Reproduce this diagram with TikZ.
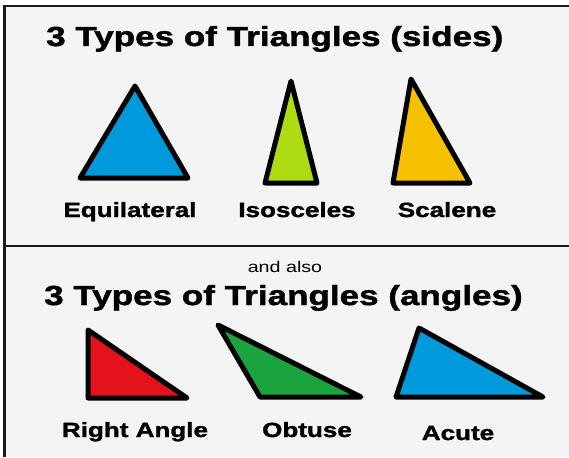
\documentclass[tikz,border=0pt]{standalone}
\usepackage{fontspec}
\usepackage{xcolor}
\newfontfamily\widesans{Liberation Sans}[FakeStretch=1.27, BoldFont={Liberation Sans Bold}, BoldFeatures={FakeBold=1.6}]
\usetikzlibrary{positioning}
\definecolor{PanelGrey}{HTML}{F4F4F4}
\definecolor{PanelLine}{HTML}{1A1A1A}
\definecolor{TriBlue}{HTML}{0099DB}
\definecolor{TriLime}{HTML}{ADDB14}
\definecolor{TriAmber}{HTML}{F4C000}
\definecolor{TriRed}{HTML}{E3121B}
\definecolor{TriGreen}{HTML}{1BA340}
\tikzset{
    % Outlined triangles
    tri shape/.style={
        draw=black,
        line width=5pt,
        line join=round
    },
    panel line/.style={
        draw=PanelLine,
        line width=2.5pt
    },
    heading/.style={
        anchor=base west,
        inner sep=0pt,
        font=\widesans\bfseries\fontsize{27.6}{30}\selectfont
    },
    type label/.style={
        anchor=base,
        inner sep=0pt,
        font=\widesans\bfseries\fontsize{20.5}{24}\selectfont
    },
    small note/.style={
        anchor=base,
        inner sep=0pt,
        font=\widesans\fontsize{15.5}{18}\selectfont
    }
}

\begin{document}
\begin{tikzpicture}[x=1pt, y=-1pt]
        \useasboundingbox (0,0) rectangle (569,457);

        % Panel
        \fill[PanelGrey] (4.5,6) rectangle (569,457);
        \draw[panel line] (4.5,457) -- (4.5,6) -- (569,6);
        \draw[panel line] (4.5,246) -- (569,246);

        % Sides
        \node[heading] (sides title) at (46,46) {3 Types of Triangles (sides)};
        \filldraw[tri shape, fill=TriBlue] (135,86) -- (188,178) -- (80,178) -- cycle;
        \filldraw[tri shape, fill=TriLime] (291,81) -- (317,183) -- (265,183) -- cycle;
        \filldraw[tri shape, fill=TriAmber] (411,79) -- (470,183) -- (393,183) -- cycle;
        \node[type label] (equilateral) at (130,217) {Equilateral};
        \node[type label] (isosceles) at (297,217) {Isosceles};
        \node[type label] (scalene) at (447,217) {Scalene};

        % Angles
        \node[small note] (also) at (285,272) {and also};
        \node[heading] (angles title) at (44,305) {3 Types of Triangles (angles)};
        \filldraw[tri shape, fill=TriRed] (88,330) -- (187,398) -- (88,398) -- cycle;
        \filldraw[tri shape, fill=TriGreen] (218,325) -- (361,397) -- (260,397) -- cycle;
        \filldraw[tri shape, fill=TriBlue] (419,328) -- (543,397) -- (396,397) -- cycle;
        \node[type label] (right angle) at (135,437) {Right Angle};
        \node[type label] (obtuse) at (307,437) {Obtuse};
        \node[type label] (acute) at (458,440) {Acute};
    \end{tikzpicture}
\end{document}
